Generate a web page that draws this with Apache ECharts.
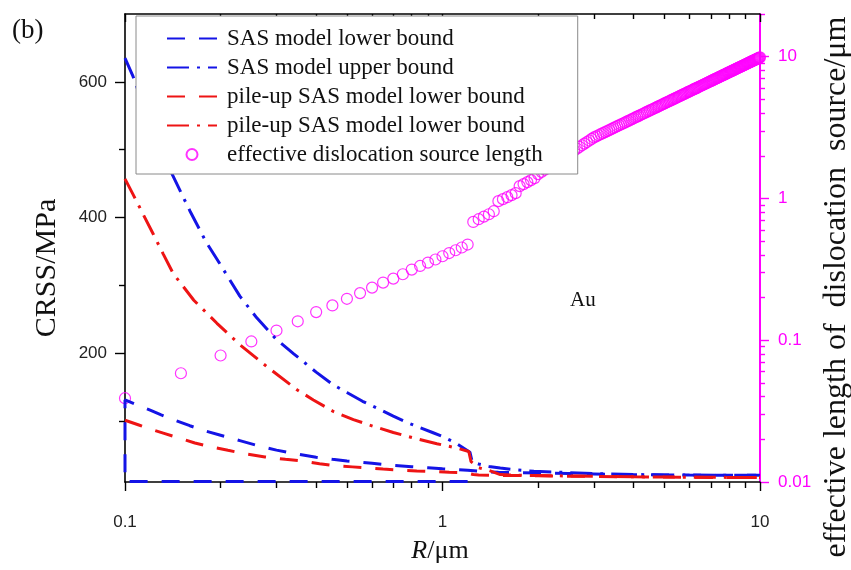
<!DOCTYPE html>
<html>
<head>
<meta charset="utf-8">
<script src="https://cdn.jsdelivr.net/npm/echarts@6/dist/echarts.min.js"></script>
<style>
  html, body { margin: 0; padding: 0; background: #fff; }
  #chart { width: 851px; height: 570px; }
</style>
</head>
<body>
<div id="chart"></div>
<script>
// CRSS (MPa) versus pillar radius R (um)
const sasLower = [
  [1.2, 10.6], [0.1, 10.6],
  [0.1, 131], [0.11, 123], [0.12, 116], [0.13, 109], [0.14, 103], [0.16, 93], [0.18, 85],
  [0.2, 79], [0.23, 71], [0.26, 64], [0.3, 57], [0.35, 51], [0.4, 46.5], [0.45, 43.5],
  [0.5, 41], [0.6, 37.5], [0.7, 34.5], [0.8, 32.5], [0.9, 31], [1.0, 29.5], [1.1, 28.3],
  [1.2, 27.2], [1.3, 26], [1.4, 25], [1.5, 24.3], [1.7, 23.8], [2, 23.2], [2.5, 22.5],
  [3, 21.8], [3.5, 21.2], [4, 20.8], [5, 20.5], [6, 20.2], [7, 20], [8, 20], [9, 19.8], [10, 19.8]
];
const sasUpper = [
  [0.1, 635], [0.106, 608], [0.12, 538], [0.14, 466], [0.16, 410], [0.18, 364], [0.2, 330],
  [0.23, 284], [0.26, 252], [0.3, 220], [0.34, 199], [0.4, 172], [0.45, 154], [0.5, 142],
  [0.56, 129], [0.64, 116], [0.7, 107], [0.77, 98], [0.85, 90], [0.93, 83], [1.0, 77],
  [1.1, 67.5], [1.22, 54], [1.24, 40], [1.3, 36.5], [1.4, 33], [1.52, 30.5], [1.67, 28.3],
  [1.94, 25.8], [2.4, 24.2], [3, 22.5], [4, 21], [5, 20.5], [6, 20.2], [8, 20], [10, 20]
];
const pileLower = [
  [0.1, 101], [0.11, 94.4], [0.12, 88], [0.132, 82], [0.15, 74], [0.166, 67.5], [0.19, 61],
  [0.211, 56.7], [0.24, 51.5], [0.276, 47], [0.32, 43.5], [0.369, 40.5], [0.41, 37],
  [0.453, 34.2], [0.52, 32.3], [0.579, 30.8], [0.65, 29], [0.738, 27.3], [0.83, 26.3],
  [0.935, 25.4], [1.05, 24.4], [1.19, 23.5], [1.25, 21], [1.3, 20.5], [1.5, 19.8], [2, 19.2],
  [2.5, 18.6], [3, 18.2], [4, 17.6], [5, 17.2], [6, 17], [7, 16.8], [8, 16.6], [10, 16.5]
];
const pileLower2 = [
  [0.1, 457], [0.106, 434], [0.114, 405], [0.1226, 376], [0.132, 346], [0.142, 317],
  [0.1647, 278], [0.1948, 244], [0.2306, 212], [0.28, 180], [0.348, 146], [0.392, 131],
  [0.453, 114], [0.524, 102], [0.6065, 92], [0.7, 83], [0.81, 75], [0.96, 66.5], [1.11, 60],
  [1.21, 55], [1.23, 40], [1.3, 31], [1.4, 27], [1.52, 21], [1.7, 20], [2, 19.5], [3, 18.3],
  [4, 17.7], [5, 17.3], [7, 16.9], [10, 16.6]
];
// effective dislocation source length (um), right log axis
const sourceLength = [
  [0.1, 0.039], [0.15, 0.0585], [0.2, 0.078], [0.25, 0.098], [0.3, 0.117], [0.35, 0.136],
  [0.4, 0.158], [0.45, 0.176], [0.5, 0.196], [0.55, 0.215], [0.6, 0.235], [0.65, 0.255],
  [0.7, 0.272], [0.75, 0.292], [0.8, 0.315], [0.85, 0.334], [0.9, 0.353], [0.95, 0.371],
  [1.0, 0.391], [1.05, 0.412], [1.1, 0.431], [1.15, 0.451], [1.2, 0.473],
  [1.25, 0.683], [1.3, 0.714], [1.35, 0.744], [1.4, 0.774], [1.45, 0.813],
  [1.5, 0.957], [1.55, 0.989], [1.6, 1.021], [1.65, 1.055], [1.7, 1.09],
  [1.75, 1.222], [1.8, 1.262], [1.85, 1.304], [1.9, 1.347], [1.95, 1.392],
  [2.0, 1.485], [2.05, 1.54], [2.1, 1.596], [2.15, 1.652], [2.2, 1.708], [2.25, 1.766],
  [2.3, 1.824], [2.35, 1.882], [2.4, 1.941], [2.45, 2.001], [2.5, 2.061], [2.55, 2.122],
  [2.6, 2.184], [2.65, 2.246], [2.7, 2.308], [2.75, 2.372], [2.8, 2.435], [2.85, 2.499],
  [2.9, 2.564], [2.95, 2.629], [3.0, 2.694], [3.05, 2.743], [3.1, 2.792], [3.15, 2.84],
  [3.2, 2.889], [3.25, 2.938], [3.3, 2.987], [3.35, 3.036], [3.4, 3.085], [3.45, 3.134],
  [3.5, 3.183], [3.55, 3.232], [3.6, 3.281], [3.65, 3.33], [3.7, 3.379], [3.75, 3.428],
  [3.8, 3.478], [3.85, 3.527], [3.9, 3.577], [3.95, 3.626], [4.0, 3.676], [4.05, 3.726],
  [4.1, 3.776], [4.15, 3.825], [4.2, 3.875], [4.25, 3.925], [4.3, 3.975], [4.35, 4.025],
  [4.4, 4.075], [4.45, 4.125], [4.5, 4.175], [4.55, 4.225], [4.6, 4.275], [4.65, 4.325],
  [4.7, 4.376], [4.75, 4.426], [4.8, 4.477], [4.85, 4.527], [4.9, 4.577], [4.95, 4.627],
  [5.0, 4.678], [5.05, 4.729], [5.1, 4.78], [5.15, 4.83], [5.2, 4.881], [5.25, 4.931],
  [5.3, 4.982], [5.35, 5.032], [5.4, 5.083], [5.45, 5.134], [5.5, 5.185], [5.55, 5.236],
  [5.6, 5.287], [5.65, 5.338], [5.7, 5.389], [5.75, 5.44], [5.8, 5.492], [5.85, 5.543],
  [5.9, 5.594], [5.95, 5.645], [6.0, 5.697], [6.05, 5.748], [6.1, 5.799], [6.15, 5.85],
  [6.2, 5.902], [6.25, 5.953], [6.3, 6.004], [6.35, 6.055], [6.4, 6.107], [6.45, 6.159],
  [6.5, 6.211], [6.55, 6.262], [6.6, 6.314], [6.65, 6.366], [6.7, 6.418], [6.75, 6.47],
  [6.8, 6.522], [6.85, 6.573], [6.9, 6.625], [6.95, 6.677], [7.0, 6.729], [7.05, 6.78],
  [7.1, 6.832], [7.15, 6.884], [7.2, 6.936], [7.25, 6.988], [7.3, 7.04], [7.35, 7.092],
  [7.4, 7.144], [7.45, 7.196], [7.5, 7.249], [7.55, 7.301], [7.6, 7.353], [7.65, 7.405],
  [7.7, 7.457], [7.75, 7.509], [7.8, 7.562], [7.85, 7.614], [7.9, 7.667], [7.95, 7.719],
  [8.0, 7.772], [8.05, 7.824], [8.1, 7.876], [8.15, 7.928], [8.2, 7.981], [8.25, 8.034],
  [8.3, 8.087], [8.35, 8.14], [8.4, 8.193], [8.45, 8.245], [8.5, 8.298], [8.55, 8.35],
  [8.6, 8.403], [8.65, 8.456], [8.7, 8.509], [8.75, 8.562], [8.8, 8.615], [8.85, 8.668],
  [8.9, 8.721], [8.95, 8.773], [9.0, 8.826], [9.05, 8.88], [9.1, 8.933], [9.15, 8.985],
  [9.2, 9.038], [9.25, 9.091], [9.3, 9.144], [9.35, 9.197], [9.4, 9.251], [9.45, 9.304],
  [9.5, 9.357], [9.55, 9.41], [9.6, 9.464], [9.65, 9.516], [9.7, 9.569], [9.75, 9.622],
  [9.8, 9.676], [9.85, 9.73], [9.9, 9.783], [9.95, 9.836], [10.0, 9.89]
];

// tick positions
const xMajorTicks = [0.1, 1, 10];
const xMinorTicks = [0.2, 0.3, 0.4, 0.5, 0.6, 0.7, 0.8, 0.9, 2, 3, 4, 5, 6, 7, 8, 9];
const yMajorTicks = [200, 400, 600];
const yMinorTicks = [100, 300, 500];
const y2MajorTicks = [0.01, 0.1, 1, 10];
const y2MinorTicks = [0.02, 0.03, 0.04, 0.05, 0.06, 0.07, 0.08, 0.09,
  0.2, 0.3, 0.4, 0.5, 0.6, 0.7, 0.8, 0.9, 2, 3, 4, 5, 6, 7, 8, 9, 20];

const BLUE = '#1414e6';
const RED = '#ee1414';
const MAGENTA = '#ff00ff';
const CLEAR = 'rgba(0,0,0,0)';
const SERIF = '"Liberation Serif", "Times New Roman", serif';
const SANS = '"Liberation Sans", Arial, sans-serif';

const chart = echarts.init(document.getElementById('chart'), null, { renderer: 'canvas' });

function xAxisDef(pos, ticks, len, inside, showLine, showLabel) {
  return {
    type: 'log', logBase: 10, min: 0.1, max: 10, position: pos,
    axisLine: { show: showLine, onZero: false, lineStyle: { color: '#000', width: 1.6 } },
    axisTick: { show: true, inside: inside, length: len, customValues: ticks,
      lineStyle: { color: '#000', width: 1.4 } },
    axisLabel: { show: showLabel, customValues: ticks, margin: 32, fontSize: 17,
      fontFamily: SANS, color: '#222', formatter: v => String(v) },
    splitLine: { show: false }, minorTick: { show: false }
  };
}

chart.setOption({
  animation: false,
  backgroundColor: '#fff',
  grid: { left: 125, right: 91, top: 14, bottom: 88, containLabel: false, outerBoundsMode: 'none' },
  legend: {
    orient: 'vertical', left: 136, top: 16,
    padding: [11, 35, 8, 30], itemGap: 6, itemWidth: 50, itemHeight: 11,
    backgroundColor: '#fff', borderColor: '#8a8a8a', borderWidth: 1,
    textStyle: { fontFamily: SERIF, fontSize: 23, color: '#111', padding: [0, 0, 0, 5] },
    data: ['SAS model lower bound', 'SAS model upper bound', 'pile-up SAS model lower bound',
      'pile-up SAS model lower bound ', 'effective dislocation source length']
  },
  xAxis: [
    xAxisDef('bottom', xMajorTicks, 9, false, true, true),
    xAxisDef('bottom', xMinorTicks, 6, false, false, false),
    xAxisDef('top', xMajorTicks, 8, true, true, false),
    xAxisDef('top', xMinorTicks, 5, true, false, false)
  ],
  yAxis: [
    {
      type: 'value', min: 10, max: 700, position: 'left',
      axisLine: { show: true, onZero: false, lineStyle: { color: '#000', width: 1.6 } },
      axisTick: { show: true, length: 10, customValues: yMajorTicks, lineStyle: { color: '#000', width: 1.4 } },
      axisLabel: { customValues: yMajorTicks, margin: 18, fontSize: 17, fontFamily: SANS, color: '#222' },
      splitLine: { show: false }
    },
    {
      type: 'value', min: 10, max: 700, position: 'left',
      axisLine: { show: false },
      axisTick: { show: true, length: 6, customValues: yMinorTicks, lineStyle: { color: '#000', width: 1.4 } },
      axisLabel: { show: false }, splitLine: { show: false }
    },
    {
      type: 'log', logBase: 10, min: 0.01, max: 20, position: 'right',
      axisLine: { show: true, onZero: false, lineStyle: { color: MAGENTA, width: 2 } },
      axisTick: { show: true, length: 9, customValues: y2MajorTicks, lineStyle: { color: MAGENTA, width: 1.4 } },
      axisLabel: { customValues: y2MajorTicks, margin: 18, fontSize: 17, fontFamily: SANS, color: MAGENTA,
        formatter: v => String(v) },
      splitLine: { show: false }
    },
    {
      type: 'log', logBase: 10, min: 0.01, max: 20, position: 'right',
      axisLine: { show: false },
      axisTick: { show: true, length: 5, customValues: y2MinorTicks, lineStyle: { color: MAGENTA, width: 1.4 } },
      axisLabel: { show: false }, splitLine: { show: false }
    }
  ],
  series: [
    { name: 'SAS model lower bound', type: 'line', data: sasLower, symbol: 'none',
      lineStyle: { color: BLUE, width: 3, type: [18, 14] }, itemStyle: { color: CLEAR } },
    { name: 'SAS model upper bound', type: 'line', data: sasUpper, symbol: 'none',
      lineStyle: { color: BLUE, width: 3, type: [22, 8, 3, 8] }, itemStyle: { color: CLEAR } },
    { name: 'pile-up SAS model lower bound', type: 'line', data: pileLower, symbol: 'none',
      lineStyle: { color: RED, width: 3, type: [18, 14] }, itemStyle: { color: CLEAR } },
    { name: 'pile-up SAS model lower bound ', type: 'line', data: pileLower2, symbol: 'none',
      lineStyle: { color: RED, width: 3, type: [22, 8, 3, 8] }, itemStyle: { color: CLEAR } },
    { name: 'effective dislocation source length', type: 'scatter', yAxisIndex: 2,
      data: sourceLength, symbol: 'circle', symbolSize: 11, clip: false,
      itemStyle: { color: CLEAR, borderColor: MAGENTA, borderWidth: 1.2 } }
  ],
  graphic: [
    { type: 'text', left: 12, top: 17, style: { text: '(b)', fontFamily: SERIF, fontSize: 27, fill: '#111' } },
    { type: 'text', left: 570, top: 290, style: { text: 'Au', fontFamily: SERIF, fontSize: 21, fill: '#111' } },
    { type: 'text', x: 47, y: 268, rotation: Math.PI / 2,
      style: { text: 'CRSS/MPa', fontFamily: SERIF, fontSize: 30, fill: '#111',
        align: 'center', verticalAlign: 'middle' } },
    { type: 'text', x: 837, y: 287, rotation: Math.PI / 2,
      style: { text: 'effective length of  dislocation  source/\u03bcm', fontFamily: SERIF, fontSize: 32,
        fill: '#111', align: 'center', verticalAlign: 'middle' } },
    { type: 'text', x: 440, y: 551,
      style: { text: '{i|R}/\u03bcm', fontFamily: SERIF, fontSize: 26, fill: '#111',
        align: 'center', verticalAlign: 'middle',
        rich: { i: { fontFamily: SERIF, fontStyle: 'italic', fontSize: 26, fill: '#111' } } } }
  ]
});
</script>
</body>
</html>
